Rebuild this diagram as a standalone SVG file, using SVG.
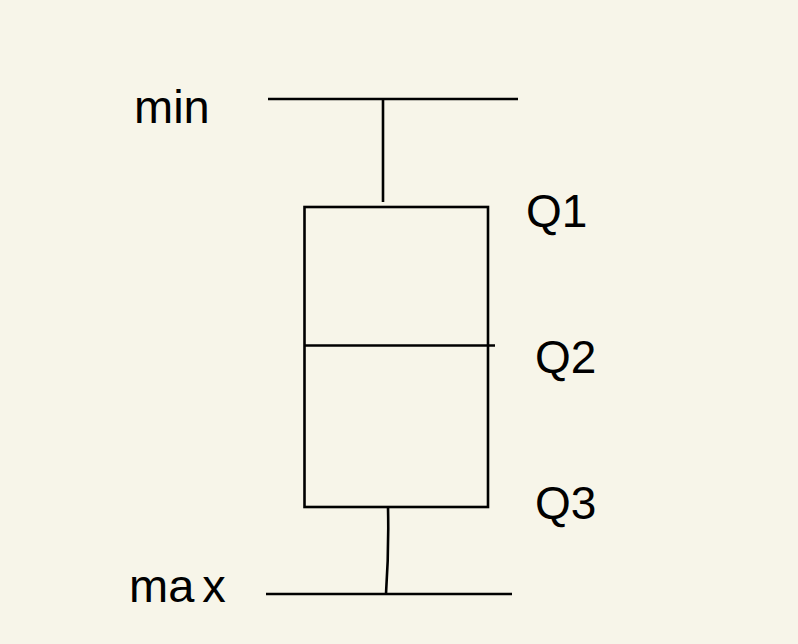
<svg xmlns="http://www.w3.org/2000/svg" width="798" height="644" viewBox="0 0 798 644">
<style>
.ln{stroke:#000;stroke-width:2.6;fill:none;stroke-linecap:butt}
.lb{font-family:"Liberation Sans",Arial,sans-serif;font-size:46px;fill:#000}
</style>
<rect width="798" height="644" fill="#f7f5e9"/>
<g id="box">
<rect class="ln" x="304.5" y="207" width="183.5" height="300"/>
</g>
<g id="median">
<line class="ln" x1="304.5" y1="345.5" x2="495" y2="345.5"/>
</g>
<g id="min">
<line class="ln" x1="268" y1="99" x2="518" y2="99"/>
</g>
<g id="max">
<line class="ln" x1="266" y1="594" x2="512" y2="594"/>
</g>
<g id="connectors">
<line class="ln" x1="383" y1="99" x2="383" y2="202"/>
<path class="ln" d="M388 507 Q389 550 386 594"/>
</g>
<g id="labels">
<text class="lb" x="134" y="123" style="font-size:47px">min</text>
<text class="lb" x="129" y="602" style="font-size:47px;word-spacing:-5px">ma x</text>
<text class="lb" x="526" y="227">Q1</text>
<text class="lb" x="535" y="373">Q2</text>
<text class="lb" x="535" y="519">Q3</text>
</g>
</svg>
